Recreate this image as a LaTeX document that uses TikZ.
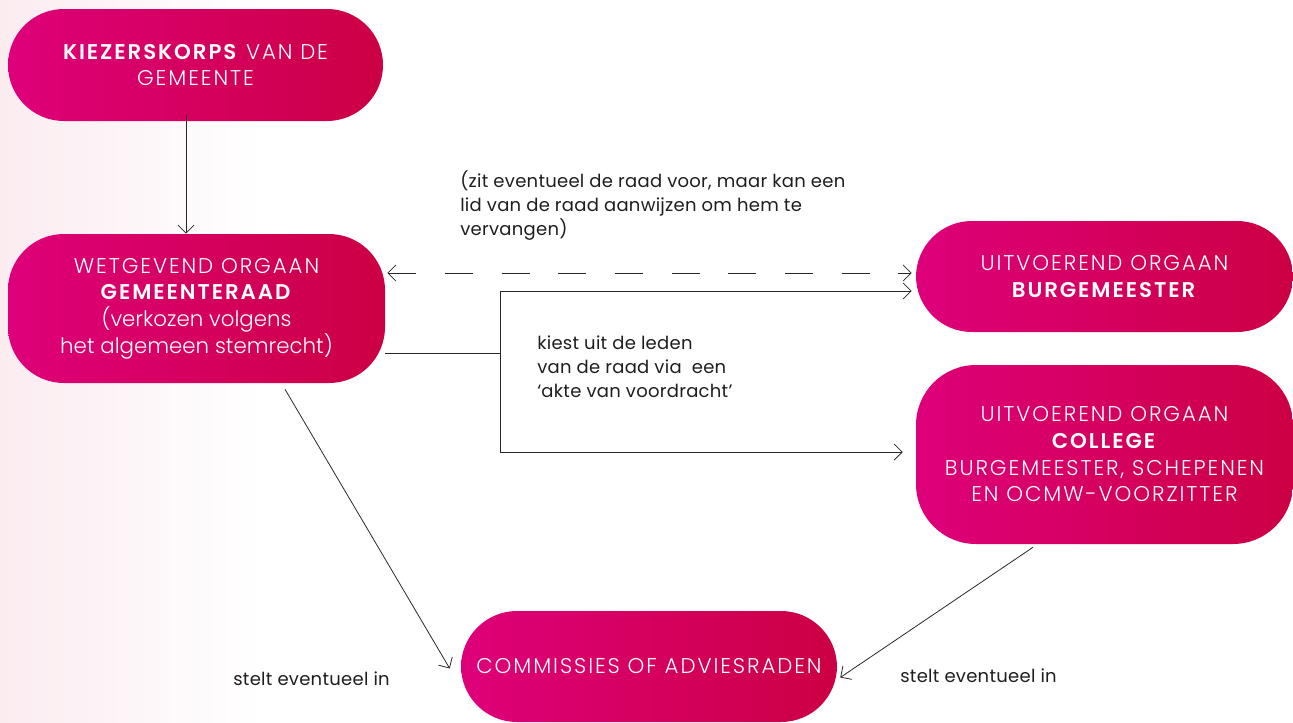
\documentclass[tikz,border=0pt]{standalone}
\usepackage{fontspec}
\setmainfont{Poppins}[UprightFont={* Light},BoldFont={* SemiBold}]
\newfontfamily\labelfont{Poppins}[LetterSpace=1.5]
\newcommand{\cp}[1]{{\addfontfeature{LetterSpace=9}#1}}
\usetikzlibrary{arrows.meta,calc}
\definecolor{pinkL}{RGB}{222,0,122}
\definecolor{pinkR}{RGB}{204,0,68}
\definecolor{lineC}{RGB}{40,40,40}
\definecolor{txtC}{RGB}{30,30,30}
\tikzset{
  pill/.style={rounded corners=42pt, left color=pinkL, right color=pinkR, draw=none,
    text=white, align=center, inner sep=0pt,
    font=\fontsize{16pt}{20pt}\selectfont},
  lbl/.style={text=txtC, align=left, inner sep=0pt, anchor=west,
    font=\labelfont\fontsize{13.5pt}{18pt}\selectfont},
  arr/.style={draw=lineC, line width=0.6pt, -{Straight Barb[length=6pt,width=12pt]}},
  arrboth/.style={draw=lineC, line width=0.6pt, {Straight Barb[length=6pt,width=12pt]}-{Straight Barb[length=6pt,width=12pt]}},
  ln/.style={draw=lineC, line width=0.6pt}
}
\begin{document}
\begin{tikzpicture}[x=0.75pt,y=-0.75pt]
\useasboundingbox (0,0) rectangle (1293,722);
\shade[left color={rgb,255:red,251;green,236;blue,240}, right color=white, draw=none] (0,0) rectangle (260,722);
% nodes
\node[pill, minimum width=281.25pt, minimum height=84pt] (n1) at (195.5,65)
  {\cp{\textbf{KIEZERSKORPS} VAN DE}\\\cp{GEMEENTE}};
\node[pill, minimum width=282.75pt, minimum height=111.75pt] (n2) at (196.5,308.5)
  {\cp{WETGEVEND ORGAAN}\\\cp{\textbf{GEMEENTERAAD}}\\(verkozen volgens\\het algemeen stemrecht)};
\node[pill, minimum width=282.75pt, minimum height=83.25pt] (n3) at (1104.5,276.5)
  {\cp{UITVOEREND ORGAAN}\\\cp{\textbf{BURGEMEESTER}}};
\node[pill, minimum width=282.75pt, minimum height=134.25pt, rounded corners=45pt] (n4) at (1104.5,454.5)
  {\cp{UITVOEREND ORGAAN}\\\cp{\textbf{COLLEGE}}\\\cp{BURGEMEESTER, SCHEPENEN}\\\cp{EN OCMW-VOORZITTER}};
\node[pill, minimum width=282pt, minimum height=83.25pt] (n5) at (649,666.5)
  {\cp{COMMISSIES OF ADVIESRADEN}};
% labels
\node[lbl, anchor=north west] (l1) at (460,170)
  {(zit eventueel de raad voor, maar kan een\\lid van de raad aanwijzen om hem te\\vervangen)};
\node[lbl, anchor=north west] (l2) at (537,336)
  {kiest uit de leden\\van de raad via\ \ een\\‘akte van voordracht’};
\node[lbl] (l3) at (233,679) {stelt eventueel in};
\node[lbl] (l4) at (900,676) {stelt eventueel in};
% connectors
\draw[arr] ($(n1.south)+(-9.5,-6)$) -- ($(n2.north)+(-10.5,0)$);
\coordinate (dy) at (0,273);
\draw[arrboth, dash pattern=on 21pt off 21.5pt] ($(n2.east |- dy)+(2,0)$) -- ($(n3.west |- dy)+(-4,0)$);
\coordinate (fork) at (500,353);
\coordinate (ftop) at (500,291);
\coordinate (fbot) at (500,452);
\draw[ln] (n2.east |- fork) -- (fork);
\draw[arr] (fork) -- (ftop) -- ($(n3.west |- ftop)+(-4,0)$);
\draw[arr] (fork) -- (fbot) -- ($(n4.west |- fbot)+(-13,0)$);
\draw[arr] ($(n2.south)+(88.5,6)$) -- ($(n5.west)+(-11,2)$);
\draw[arr] ($(n4.south)+(-71.5,3)$) -- ($(n5.east)+(3,11)$);
\end{tikzpicture}
\end{document}
